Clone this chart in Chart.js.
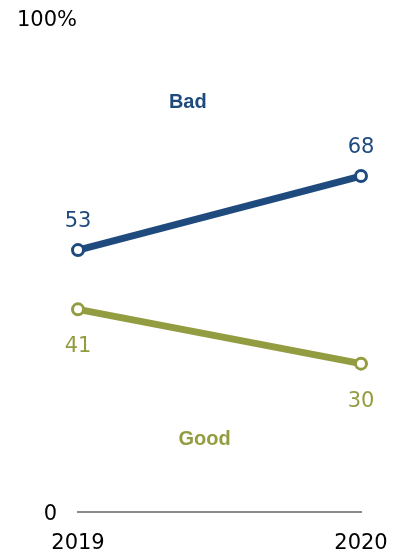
<!DOCTYPE html>
<html lang="en">
<head>
<meta charset="UTF-8">
<script src="https://cdn.jsdelivr.net/npm/chart.js@4.4.0/dist/chart.umd.min.js"></script>
<title>Bad / Good</title>
<style>
  html, body { margin: 0; padding: 0; background: #fff; }
  #wrap { width: 399px; height: 552px; }
</style>
</head>
<body>
<div id="wrap"><canvas id="chart" width="399" height="552"></canvas></div>
<script>
const years = ['2019', '2020'];
const bad = [53, 68];
const good = [41, 30];
const yTicks = ['0', '100%'];

const BLUE = '#1f4a7e';
const OLIVE = '#949c41';
const FONT = '"DejaVu Sans", sans-serif';
const NUDGE = 2.5; // canvas 'middle' baseline sits a little above the cap centre

// value labels above/below points, series names, and the 0 / 100% ticks
const labelsPlugin = {
  id: 'labels',
  afterDatasetsDraw(chart) {
    const ctx = chart.ctx;
    const y = chart.scales.y;
    const area = chart.chartArea;
    ctx.save();
    ctx.textBaseline = 'middle';

    ctx.font = '21px ' + FONT;
    ctx.fillStyle = '#000';
    ctx.textAlign = 'left';
    ctx.fillText(yTicks[1], 17, y.getPixelForValue(100) + NUDGE);
    ctx.textAlign = 'right';
    ctx.fillText(yTicks[0], 57, y.getPixelForValue(0) + NUDGE);

    ctx.textAlign = 'center';
    chart.data.datasets.forEach((ds, i) => {
      const meta = chart.getDatasetMeta(i);
      ctx.fillStyle = ds.borderColor;
      meta.data.forEach((pt, j) => {
        const dy = ds.labelAbove ? -31 : 35;
        ctx.fillText(String(ds.data[j]), pt.x, pt.y + dy + NUDGE);
      });
      ctx.font = 'bold 20px "Liberation Sans", Arial, sans-serif';
      const nx = area.left + ds.nameAt[0] * (area.right - area.left);
      ctx.fillText(ds.label, nx, y.getPixelForValue(ds.nameAt[1]) + 1);
      ctx.font = '21px ' + FONT;
    });
    ctx.restore();
  }
};

new Chart(document.getElementById('chart'), {
  type: 'line',
  data: {
    labels: years,
    datasets: [
      {
        label: 'Bad',
        data: bad,
        borderColor: BLUE,
        labelAbove: true,
        nameAt: [0.388, 83],
        clip: false
      },
      {
        label: 'Good',
        data: good,
        borderColor: OLIVE,
        labelAbove: false,
        nameAt: [0.447, 14.8],
        clip: false
      }
    ]
  },
  options: {
    responsive: false,
    animation: false,
    devicePixelRatio: 1,
    layout: { autoPadding: false, padding: { left: 78, right: 38, top: 18, bottom: -23 } },
    elements: {
      line: { borderWidth: 7, tension: 0 },
      point: {
        radius: 5.5,
        borderWidth: 3,
        backgroundColor: '#fff',
        pointStyle: 'circle'
      }
    },
    datasets: {
      line: {
        pointBorderColor: ctx => ctx.dataset.borderColor
      }
    },
    plugins: {
      legend: { display: false },
      tooltip: { enabled: false }
    },
    scales: {
      x: {
        offset: false,
        grid: { display: false, drawTicks: false },
        border: { display: true, color: '#8a8a8a', width: 2 },
        ticks: {
          color: '#000',
          font: { family: FONT, size: 21 },
          padding: 19,
          maxRotation: 0
        },
        // the outer labels already fit inside the layout padding
        afterFit(scale) {
          scale.paddingLeft = 0;
          scale.paddingRight = 0;
        }
      },
      y: {
        display: false,
        min: 0,
        max: 100
      }
    }
  },
  plugins: [labelsPlugin]
});
</script>
</body>
</html>
